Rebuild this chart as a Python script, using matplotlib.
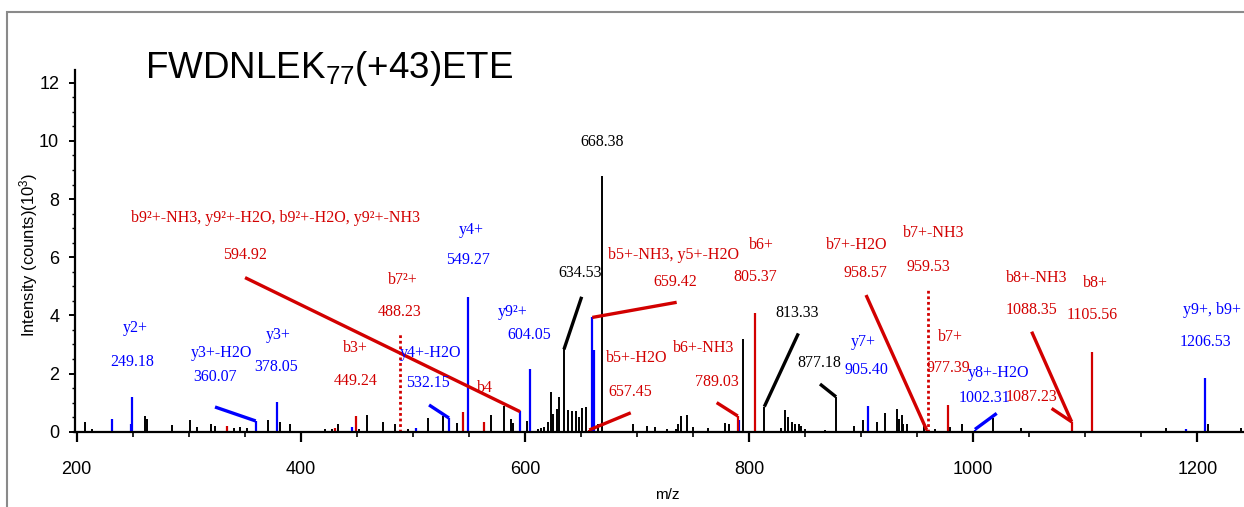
import matplotlib
matplotlib.use("Agg")
import matplotlib.pyplot as plt
from matplotlib.ticker import MultipleLocator
from matplotlib.patches import Rectangle

# peak lists (m/z, intensity in 10^3 counts)
black_mz = [207.4, 213.4, 261.0, 262.5, 284.8, 301.0, 307.0, 319.8, 323.4, 340.0,
            346.0, 352.0, 371.0, 381.0, 390.3, 422.0, 428.0, 433.0, 452.0, 458.8,
            473.6, 484.0, 496.0, 513.8, 527.0, 539.0, 570.0, 581.0, 587.3, 589.7,
            601.6, 612.0, 614.5, 617.0, 620.3, 622.8, 625.3, 628.3, 630.7, 634.8,
            638.2, 641.7, 645.6, 648.5, 651.2, 654.5, 665.5, 668.5, 696.7, 709.2,
            716.0, 727.0, 734.5, 736.8, 739.3, 744.3, 750.3, 763.6, 778.5, 782.0,
            794.9, 813.6, 828.2, 832.0, 835.0, 838.0, 841.0, 845.0, 846.5, 850.0,
            867.8, 877.6, 894.0, 902.0, 914.4, 921.3, 931.7, 933.8, 936.2, 937.6,
            941.2, 956.4, 966.0, 979.3, 989.7, 1017.4, 1042.4, 1171.8, 1209.8, 1239.0]
black_h = [0.34, 0.10, 0.54, 0.45, 0.23, 0.40, 0.17, 0.26, 0.19, 0.12,
           0.15, 0.12, 0.40, 0.34, 0.26, 0.08, 0.08, 0.26, 0.10, 0.57,
           0.32, 0.26, 0.10, 0.46, 0.55, 0.30, 0.57, 0.88, 0.43, 0.30,
           0.38, 0.10, 0.12, 0.15, 0.35, 1.38, 0.60, 0.78, 1.18, 2.83,
           0.74, 0.72, 0.72, 0.50, 0.80, 0.84, 0.26, 8.79, 0.28, 0.18,
           0.15, 0.10, 0.10, 0.28, 0.55, 0.57, 0.15, 0.12, 0.30, 0.25,
           3.18, 0.86, 0.12, 0.75, 0.49, 0.35, 0.25, 0.27, 0.20, 0.10,
           0.05, 1.20, 0.18, 0.41, 0.35, 0.65, 0.77, 0.42, 0.57, 0.28,
           0.28, 0.19, 0.10, 0.15, 0.25, 0.47, 0.12, 0.12, 0.28, 0.12]

red_mz = [333.9, 430.5, 449.2, 545.0, 563.7, 657.4, 789.9, 805.3, 958.5, 977.8, 1087.9, 1105.8]
red_h = [0.19, 0.13, 0.54, 0.69, 0.32, 0.06, 0.54, 4.07, 0.06, 0.91, 0.34, 2.75]

red_dot_mz = [488.5, 960.0]
red_dot_h = [3.40, 4.87]

blue_mz = [231.2, 248.0, 249.6, 359.7, 378.5, 446.0, 502.8, 532.2, 549.5, 595.6,
           604.2, 660.1, 661.4, 791.3, 905.9, 1001.6, 1189.6, 1206.9]
blue_h = [0.44, 0.25, 1.20, 0.37, 1.02, 0.17, 0.13, 0.47, 4.64, 0.71,
          2.15, 3.93, 2.81, 0.40, 0.88, 0.07, 0.08, 1.84]

# annotation texts: (text, colour key, m/z, intensity)
labels = [
    ("y2+", "b", 252.1, 3.57), ("249.18", "b", 249.1, 2.41),
    ("y3+-H2O", "b", 329.4, 2.71), ("360.07", "b", 323.4, 1.89),
    ("y3+", "b", 379.6, 3.33), ("378.05", "b", 377.8, 2.24),
    ("b3+", "r", 448.3, 2.88), ("449.24", "r", 449.2, 1.75),
    ("b7²+", "r", 491.2, 5.22), ("488.23", "r", 488.5, 4.13),
    ("y4+-H2O", "b", 515.3, 2.71), ("532.15", "b", 513.5, 1.67),
    ("b9²+-NH3, y9²+-H2O, b9²+-H2O, y9²+-NH3", "r", 377.0, 7.35),
    ("594.92", "r", 350.2, 6.08),
    ("b4", "r", 564.3, 1.50),
    ("y4+", "b", 552.5, 6.94), ("549.27", "b", 549.5, 5.91),
    ("y9²+", "b", 589.3, 4.13), ("604.05", "b", 603.6, 3.33),
    ("668.38", "k", 668.5, 9.97),
    ("634.53", "k", 649.1, 5.45),
    ("b5+-NH3, y5+-H2O", "r", 732.4, 6.08), ("659.42", "r", 733.9, 5.16),
    ("b5+-H2O", "r", 699.7, 2.52), ("657.45", "r", 693.8, 1.38),
    ("b6+-NH3", "r", 759.2, 2.87), ("789.03", "r", 771.1, 1.72),
    ("b6+", "r", 811.3, 6.42), ("805.37", "r", 805.3, 5.33),
    ("813.33", "k", 842.5, 4.07),
    ("877.18", "k", 862.4, 2.37),
    ("y7+", "b", 901.9, 3.09), ("905.40", "b", 905.0, 2.12),
    ("b7+-H2O", "r", 896.1, 6.42), ("958.57", "r", 903.5, 5.45),
    ("b7+-NH3", "r", 964.4, 6.82), ("959.53", "r", 960.0, 5.67),
    ("b7+", "r", 979.6, 3.27), ("977.39", "r", 977.8, 2.18),
    ("y8+-H2O", "b", 1022.4, 2.01), ("1002.31", "b", 1010.5, 1.15),
    ("b8+-NH3", "r", 1056.7, 5.28), ("1088.35", "r", 1052.2, 4.18),
    ("1087.23", "r", 1052.2, 1.20),
    ("b8+", "r", 1108.7, 5.10), ("1105.56", "r", 1105.8, 4.01),
    ("y9+, b9+", "b", 1212.9, 4.19), ("1206.53", "b", 1206.9, 3.09),
]

# leader lines from label to peak: (colour key, x0, y0, x1, y1)
leaders = [
    ("b", 323.4, 0.85, 359.7, 0.37),
    ("b", 514.4, 0.92, 532.2, 0.47),
    ("r", 350.2, 5.30, 595.6, 0.69),
    ("k", 650.6, 4.64, 634.8, 2.83),
    ("r", 735.4, 4.45, 660.1, 3.93),
    ("r", 694.4, 0.65, 657.4, 0.06),
    ("r", 771.1, 1.00, 789.9, 0.54),
    ("k", 844.0, 3.38, 813.6, 0.86),
    ("k", 863.3, 1.64, 877.6, 1.20),
    ("r", 904.4, 4.70, 958.5, 0.06),
    ("b", 1021.0, 0.63, 1001.6, 0.08),
    ("r", 1052.2, 3.44, 1087.9, 0.34),
    ("r", 1070.0, 0.80, 1087.9, 0.34),
]

COLORS = {"r": "#d20000", "b": "#0000ff", "k": "black"}
SERIF = ["Liberation Serif", "DejaVu Serif"]
NARROW = ["Liberation Sans Narrow", "Liberation Sans", "DejaVu Sans"]

plt.rcParams["mathtext.fontset"] = "custom"
plt.rcParams["mathtext.rm"] = "Liberation Sans"
plt.rcParams["mathtext.default"] = "rm"

W, H = 1244, 507
fig = plt.figure(figsize=(W / 100, H / 100), dpi=100)

# grey frame round the picture
fig.patches.append(Rectangle((7.5 / W, -0.1), 2.0, 1.1 - 11.5 / H, transform=fig.transFigure,
                             fill=False, edgecolor="#8a8a8a", lw=1.5))

ax = fig.add_axes([74.5 / W, 75.3 / H, 1 - 74.5 / W, (431.7 - 70) / H])
ax.set_xlim(198, 1241.7)
ax.set_ylim(0, 12.44)

ax.vlines(black_mz, 0, black_h, color="black", lw=1.4)
ax.vlines(blue_mz, 0, blue_h, color=COLORS["b"], lw=1.6)
ax.vlines(red_mz, 0, red_h, color=COLORS["r"], lw=1.6)
ax.vlines(red_dot_mz, 0, red_dot_h, color=COLORS["r"], lw=2.0, linestyles=(0, (1, 1)))

for c, x0, y0, x1, y1 in leaders:
    ax.plot([x0, x1], [y0, y1], color=COLORS[c], lw=2.4, solid_capstyle="butt")

for text, c, x, y in labels:
    ax.text(x, y, text, color=COLORS[c], ha="center", va="center",
            fontsize=11.5, family=SERIF)

for side in ("top", "right"):
    ax.spines[side].set_visible(False)
for side in ("left", "bottom"):
    ax.spines[side].set_linewidth(1.6)

ax.xaxis.set_major_locator(MultipleLocator(200))
ax.xaxis.set_minor_locator(MultipleLocator(50))
ax.yaxis.set_major_locator(MultipleLocator(2))
ax.yaxis.set_minor_locator(MultipleLocator(0.5))
ax.tick_params(axis="x", which="major", length=7, width=1.6, pad=14, labelsize=13)
ax.tick_params(axis="x", which="minor", length=3.5, width=1.2)
ax.tick_params(axis="y", which="major", length=4, width=1.4, pad=7, labelsize=13)
ax.tick_params(axis="y", which="minor", length=2.5, width=1.0)
for lab in ax.get_xticklabels() + ax.get_yticklabels():
    lab.set_family(NARROW)

ax.set_xlabel("m/z", family=NARROW, fontsize=11, va="center")
ax.xaxis.set_label_coords(0.5066, -0.175)
ax.set_ylabel("Intensity (counts)(10$^3$)", family=NARROW, fontsize=12, va="center")
ax.yaxis.set_label_coords(-0.0395, 0.49)

fig.text(145 / W, 1 - 68 / H, "FWDNLEK$_{77}$(+43)ETE", fontsize=26.5,
         family="Liberation Sans", va="center", ha="left")

fig.savefig("out.png", dpi=100)
